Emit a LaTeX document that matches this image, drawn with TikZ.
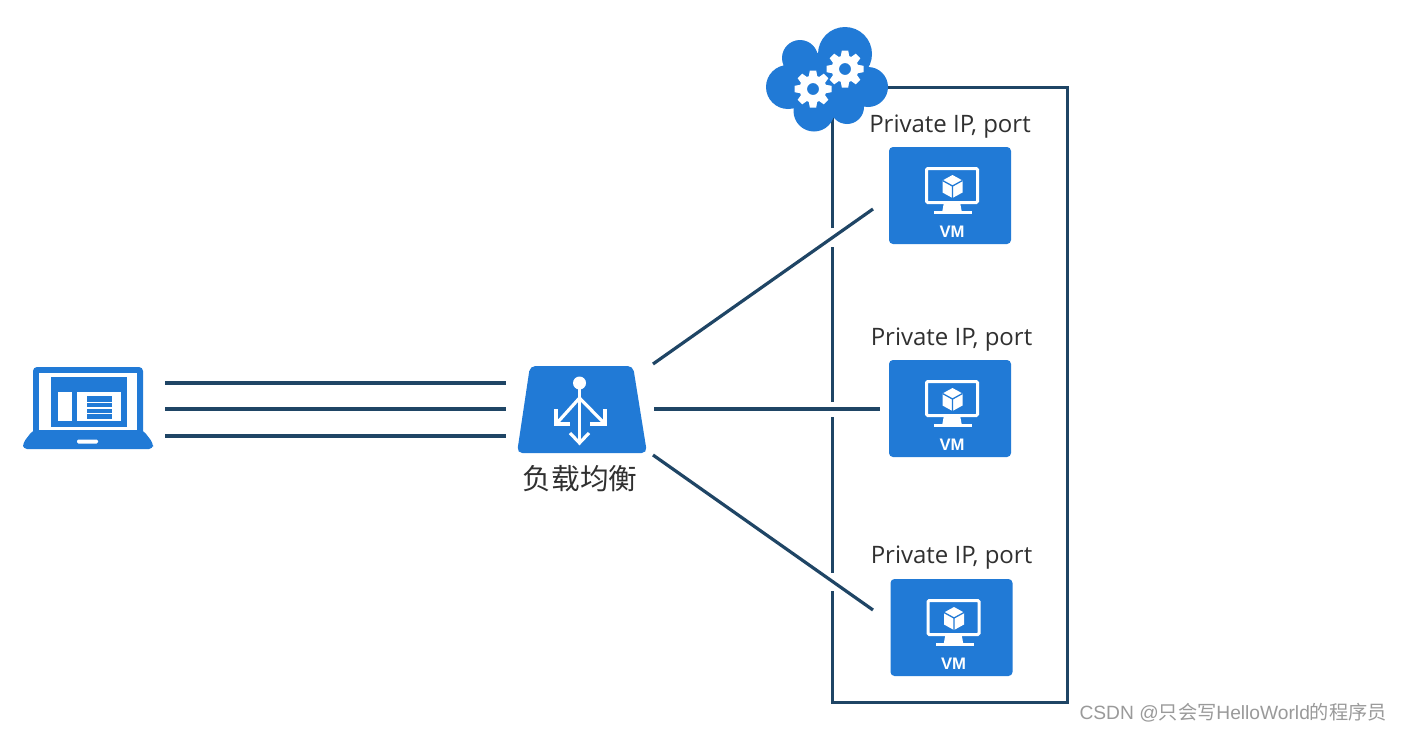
\documentclass[tikz,border=0pt]{standalone}
\usepackage{fontspec}
\setmainfont{Open Sans}
\setsansfont{Liberation Sans}
\newfontfamily\cjk{Noto Sans CJK SC}
\usetikzlibrary{calc}
\definecolor{azure}{HTML}{217AD6}
\definecolor{navy}{HTML}{1F4565}
\definecolor{lbl}{HTML}{303030}
\definecolor{wm}{HTML}{9A9A9A}
\tikzset{
  x=0.75pt,y=-0.75pt,
  px/.style={line width=#1*0.75pt},
  conn/.style={draw=navy,px=3.2},
  frame/.style={draw=navy,px=3},
  iplabel/.style={font=\fontsize{18}{20}\selectfont,text=lbl,inner sep=0pt},
  vmbox/.style={fill=azure,rounded corners=3pt},
  lbarrow/.style={draw=white,px=3.2},
}
\newcommand{\gearshape}[2]{% cx, cy
  \begin{scope}[shift={(#1,#2)}]
    \foreach \a in {0,45,...,315}{
      \fill[white,rotate=\a] (-3.2,-18.5) -- (3.2,-18.5) -- (4.5,-11) -- (-4.5,-11) -- cycle;
    }
    \fill[white,even odd rule] (0,0) circle[radius=13.5] (0,0) circle[radius=6];
  \end{scope}}
\newcommand{\vmicon}[3]{% name, x, y
  \begin{scope}[shift={(#2,#3)}]
    \fill[vmbox] (0,0) rectangle (122,97);
    \draw[white,px=3,rounded corners=1pt] (37.5,21.5) rectangle (88.5,55.5);
    \fill[white] (55,55) -- (71,55) -- (73,66) -- (53,66) -- cycle;
    \fill[white] (45,64) rectangle (83,67);
    \fill[white] (63.5,28) -- (73.5,33.5) -- (73.5,45.5) -- (63.5,51) -- (53.5,45.5) -- (53.5,33.5) -- cycle;
    \draw[azure,px=1.3] (53.5,33.5) -- (63.5,39) -- (73.5,33.5) (63.5,39) -- (63.5,51);
    \node (#1) [font=\sffamily\bfseries\fontsize{12.5}{13}\selectfont,text=white,inner sep=0pt] at (63,85) {VM};
  \end{scope}}
\begin{document}
\begin{tikzpicture}
\useasboundingbox (0,0) rectangle (1402,732);
\fill[white] (0,0) rectangle (1402,732);

% container
\coordinate (ftl) at (832,87);
\coordinate (ftr) at (1067,87);
\coordinate (fbr) at (1067,702);
\coordinate (fbl) at (832,702);
\draw[frame,line join=miter] (832,228) -- (ftl) -- (ftr) -- (fbr) -- (fbl) -- (832,591);
\draw[frame] (832,247) -- (832,402);
\draw[frame] (832,417) -- (832,573);

% laptop
\fill[azure,rounded corners=3pt] (33,367) rectangle (143,436);
\fill[white] (38.5,373) rectangle (137,430);
\fill[azure] (51,377) rectangle (127,427);
\fill[white] (58,392) rectangle (72,421);
\fill[white] (77,392) rectangle (121,421);
\fill[azure] (87,396) rectangle (112,419);
\foreach \yy in {401.5,407,412.5}{\fill[white] (87,\yy) rectangle (112,\yy+1.5);}
\fill[azure,rounded corners=3pt] (33,430) -- (143,430) -- (153,443) -- (153,449) -- (23,449) -- (23,443) -- cycle;
\fill[white,rounded corners=1pt] (77,439.5) rectangle (98,443.5);

% client connectors
\coordinate (c1a) at (165,383); \coordinate (c1b) at (506,383);
\coordinate (c2a) at (165,409); \coordinate (c2b) at (506,409);
\coordinate (c3a) at (165,436); \coordinate (c3b) at (506,436);
\draw[conn] (c1a) -- (c1b);
\draw[conn] (c2a) -- (c2b);
\draw[conn] (c3a) -- (c3b);

% load balancer
\fill[azure,rounded corners=4pt] (530,366) -- (633,366) -- (647,453) -- (517,453) -- cycle;
\fill[white] (579.5,383) circle[radius=6.5];
\draw[lbarrow] (579.5,386) -- (579.5,442);
\draw[lbarrow] (579.5,398) -- (557,423);
\draw[lbarrow] (579.5,398) -- (604,423);
\draw[lbarrow] (556,409) -- (556,424) -- (570,424);
\draw[lbarrow] (605,409) -- (605,424) -- (590,424);
\draw[lbarrow] (570,433) -- (579.5,443) -- (589,433);
\node (lb) [inner sep=0pt,text=lbl,font=\cjk\fontsize{21.5}{26}\selectfont] at (580,479) {负载均衡};

% LB to VM connectors
\coordinate (l1a) at (653,364); \coordinate (l1b) at (873,209);
\coordinate (l2a) at (654,409); \coordinate (l2b) at (880,409);
\coordinate (l3a) at (653,455); \coordinate (l3b) at (873,610);
\draw[conn] (l1a) -- (l1b);
\draw[conn] (l2a) -- (l2b);
\draw[conn] (l3a) -- (l3b);

% VMs
\vmicon{vma}{889}{147}
\vmicon{vmb}{889}{360}
\vmicon{vmc}{890.5}{579}
\node (ipa) [iplabel] at (950,127) {Private IP, port};
\node (ipb) [iplabel] at (951.5,340) {Private IP, port};
\node (ipc) [iplabel] at (951.5,558) {Private IP, port};

% cloud
\fill[azure] (800,58) circle[radius=18]
  (845,54) circle[radius=27]
  (868,87) circle[radius=20]
  (788,87) circle[radius=22]
  (814,111) circle[radius=20.5]
  (847,107) circle[radius=17]
  (825,82) circle[radius=30];
\gearshape{813}{89}
\gearshape{845}{69}

% watermark
\node (wm) [inner sep=0pt,anchor=east,text=wm,font=\fontsize{14.4}{20}\selectfont] at (1387,713) {\sffamily CSDN @\cjk 只会写\sffamily HelloWorld\cjk 的程序员};
\end{tikzpicture}
\end{document}
